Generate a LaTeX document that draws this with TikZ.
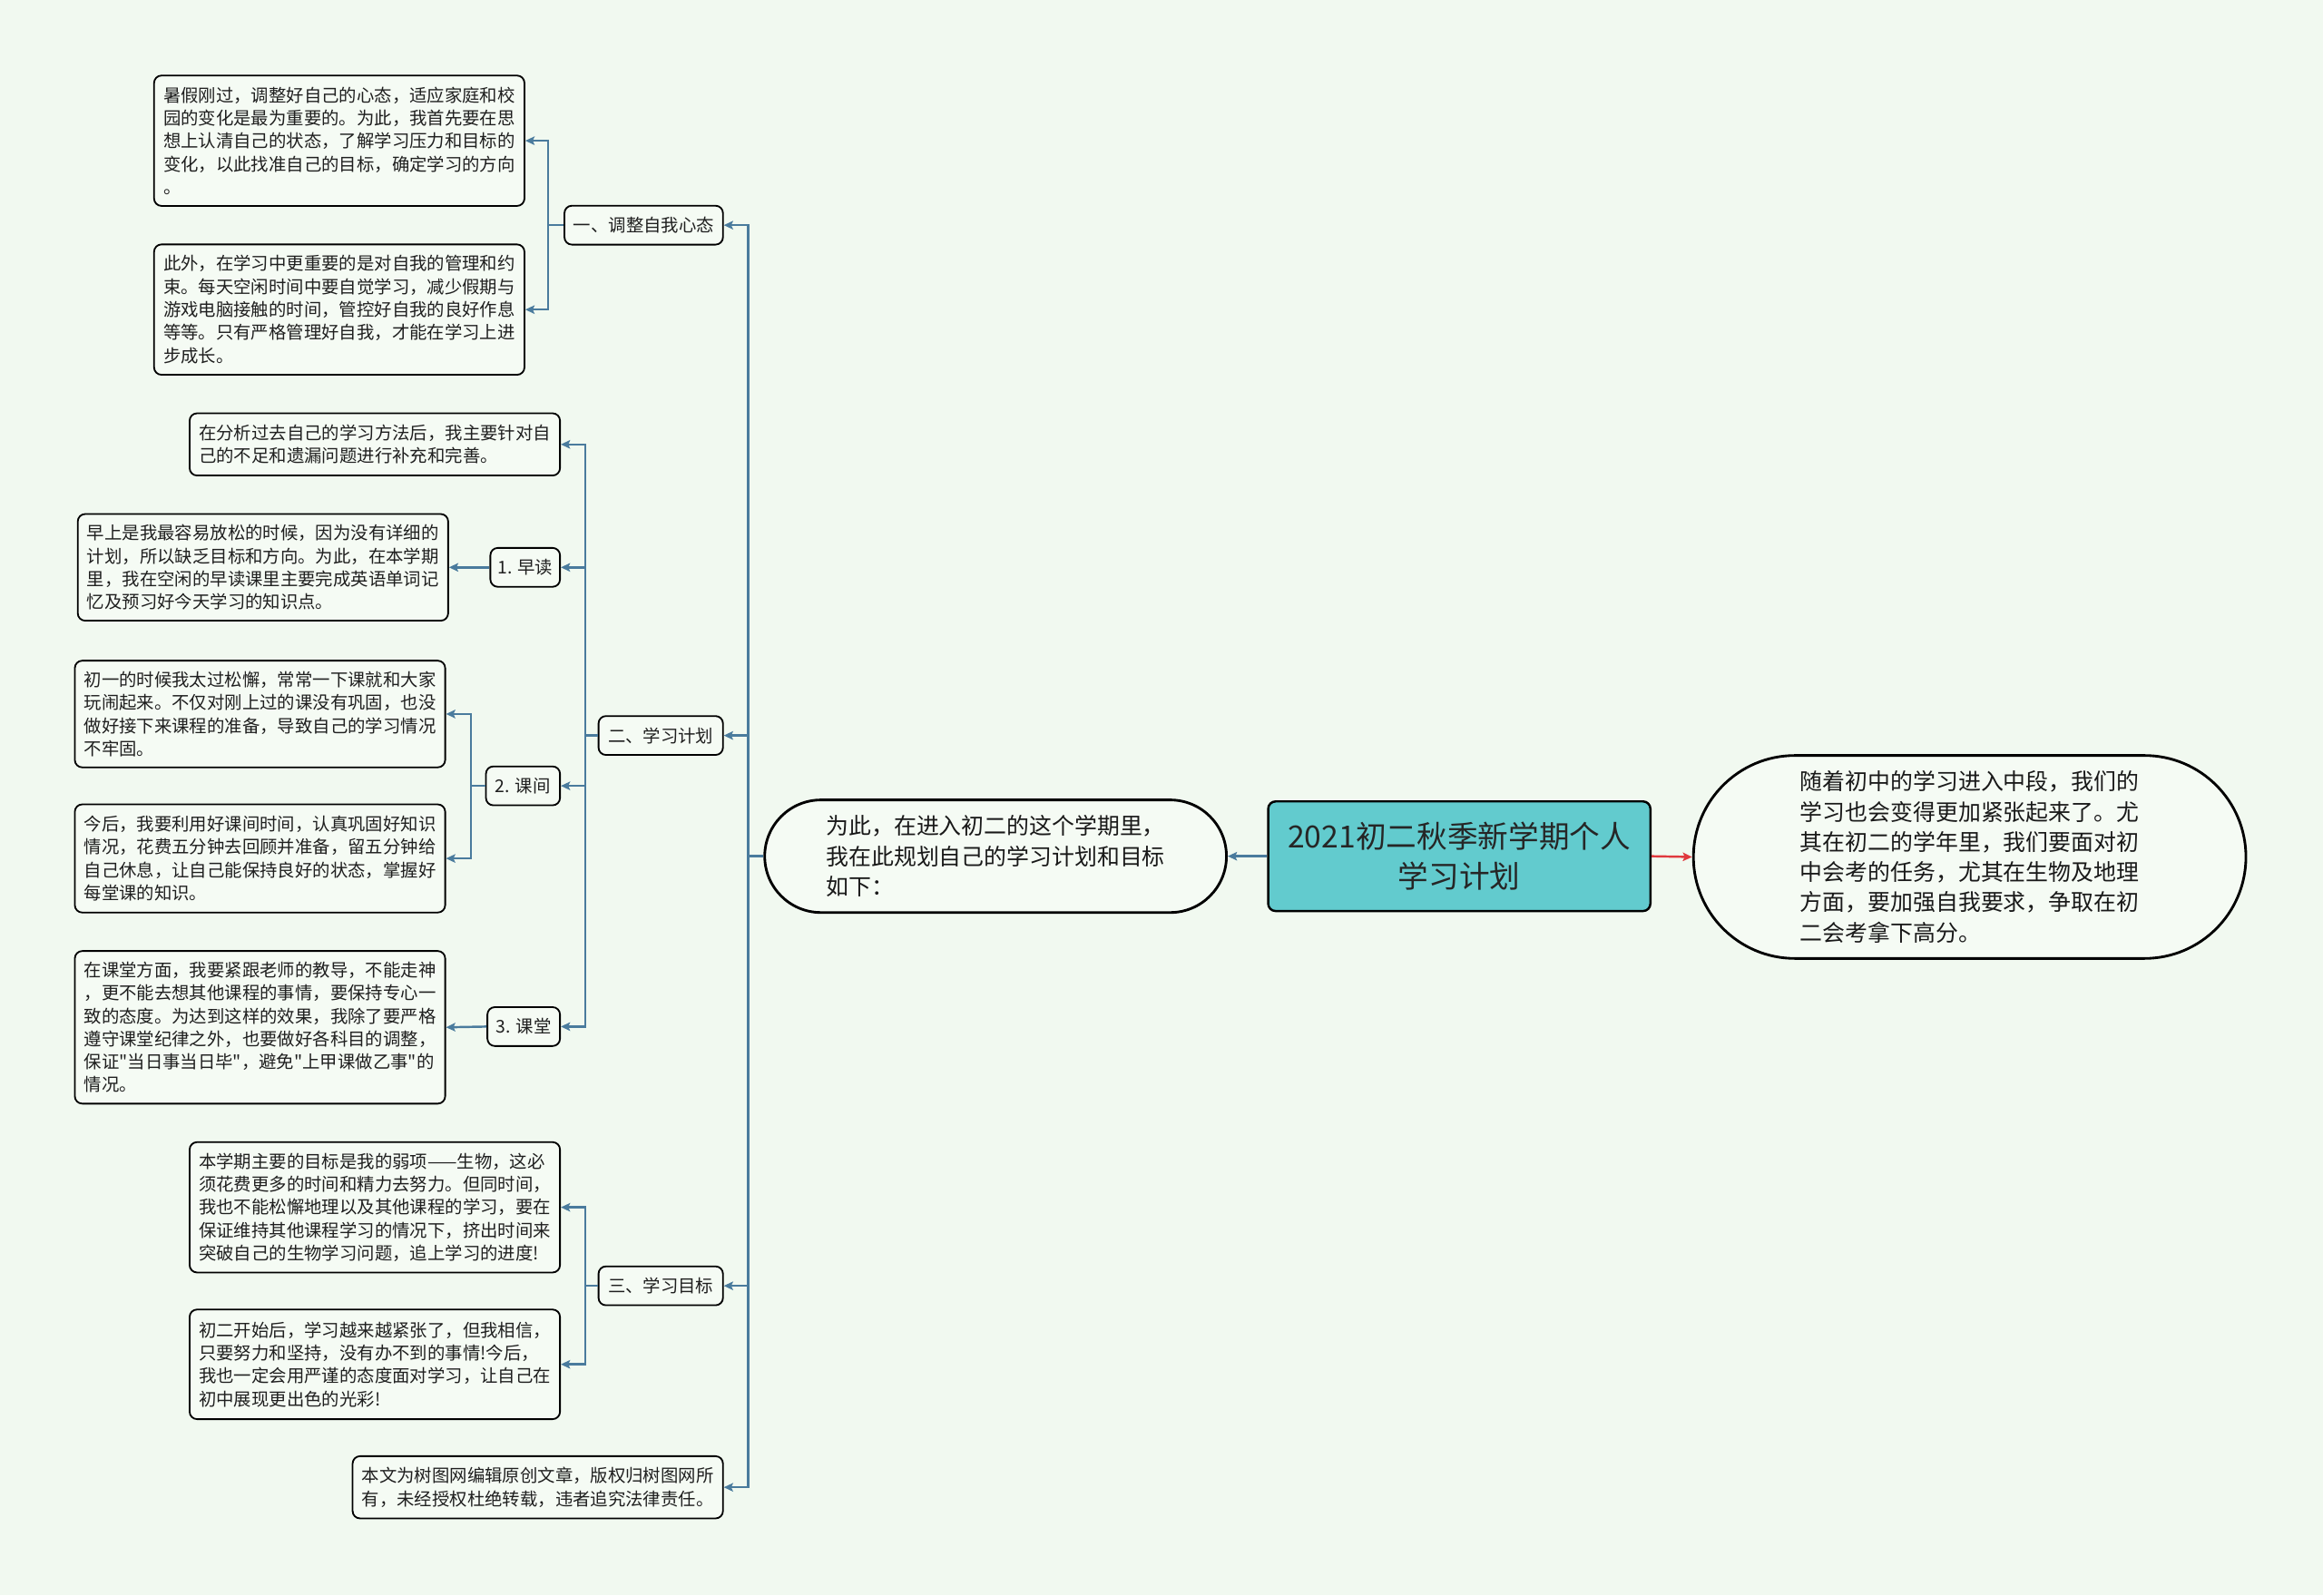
\documentclass[tikz,border=0pt]{standalone}
\usepackage{fontspec}
\setmainfont{Noto Sans CJK SC}[Ligatures=TeXOff]
\usetikzlibrary{arrows.meta,shapes.misc}
\definecolor{bgc}{HTML}{F1F9F0}
\definecolor{connc}{HTML}{4A7B9D}
\definecolor{rootfill}{HTML}{62CBCE}
\definecolor{redc}{HTML}{E0393E}
\definecolor{boxfill}{HTML}{F5FBF4}
\begin{document}
\begin{tikzpicture}[x=0.8pt,y=-0.8pt,
  txtbox/.style={draw=black, line width=0.9pt, rounded corners=4pt, fill=boxfill,
    text width=190pt, inner xsep=5pt, inner ysep=0pt, align=left,
    font=\fontsize{9.5}{12.4}\selectfont, text=black!88},
  lbl/.style={draw=black, line width=0.9pt, rounded corners=4pt, fill=boxfill,
    inner sep=0pt, minimum height=21pt, font=\fontsize{9.5}{12.4}\selectfont, text=black!88},
  conline/.style={draw=connc, line width=1.2pt, -{Stealth[length=5pt,width=4.6pt,inset=1pt]}},
  stad/.style={rounded rectangle, draw=black, line width=1.4pt, fill=boxfill, align=left,
    font=\fontsize{12.2}{16.3}\selectfont, text=black!90}
]
\fill[bgc] (0,0) rectangle (1568,1077);
\useasboundingbox (0,0) rectangle (1568,1077);

% root and first-level
\node[draw=black, line width=1.2pt, rounded corners=4pt, fill=rootfill, minimum width=206.4pt,
  minimum height=59.2pt, align=center, font=\fontsize{16.5}{21.6}\selectfont, text=black!85]
  (R) at (985,578) {2021初二秋季新学期个人\\学习计划};
\node[stad, minimum width=256pt, minimum height=60.8pt] (E) at (672,578)
  {为此，在进入初二的这个学期里，\\我在此规划自己的学习计划和目标\\如下：\hspace*{8pt}};
\node[stad, minimum width=305pt, minimum height=109.6pt] (F) at (1329.5,578.5)
  {随着初中的学习进入中段，我们的\\学习也会变得更加紧张起来了。尤\\其在初二的学年里，我们要面对初\\中会考的任务，尤其在生物及地理\\方面，要加强自我要求，争取在初\\二会考拿下高分。\hspace*{8pt}};

% second level labels
\node[lbl, minimum width=85.6pt] (A) at (434.5,152) {一、调整自我心态};
\node[lbl, minimum width=67.2pt] (B) at (446,496.5) {二、学习计划};
\node[lbl, minimum width=67.2pt] (C) at (446,868) {三、学习目标};
\node[txtbox, minimum height=33.6pt] (D) at (363,1004)
  {本文为树图网编辑原创文章，版权归树图网所\\有，未经授权杜绝转载，违者追究法律责任。};

% branch A
\node[txtbox, minimum height=70.4pt] (A1) at (229,95)
  {暑假刚过，调整好自己的心态，适应家庭和校\\园的变化是最为重要的。为此，我首先要在思\\想上认清自己的状态，了解学习压力和目标的\\变化，以此找准自己的目标，确定学习的方向\\。};
\node[txtbox, minimum height=70.4pt] (A2) at (229,209)
  {此外，在学习中更重要的是对自我的管理和约\\束。每天空闲时间中要自觉学习，减少假期与\\游戏电脑接触的时间，管控好自我的良好作息\\等等。只有严格管理好自我，才能在学习上进\\步成长。};

% branch B
\node[txtbox, minimum height=33.6pt] (B0) at (253,300)
  {在分析过去自己的学习方法后，我主要针对自\\己的不足和遗漏问题进行补充和完善。};
\node[lbl, minimum width=37.6pt] (B1) at (354.5,383) {1. 早读};
\node[lbl, minimum width=40pt] (B2) at (353,530.5) {2. 课间};
\node[lbl, minimum width=39.2pt] (B3) at (353.5,693) {3. 课堂};
\node[txtbox, minimum height=57.6pt] (B1a) at (177.5,383)
  {早上是我最容易放松的时候，因为没有详细的\\计划，所以缺乏目标和方向。为此，在本学期\\里，我在空闲的早读课里主要完成英语单词记\\忆及预习好今天学习的知识点。};
\node[txtbox, minimum height=57.6pt] (B2a) at (175.5,482)
  {初一的时候我太过松懈，常常一下课就和大家\\玩闹起来。不仅对刚上过的课没有巩固，也没\\做好接下来课程的准备，导致自己的学习情况\\不牢固。};
\node[txtbox, minimum height=58.4pt] (B2b) at (175.5,579.5)
  {今后，我要利用好课间时间，认真巩固好知识\\情况，花费五分钟去回顾并准备，留五分钟给\\自己休息，让自己能保持良好的状态，掌握好\\每堂课的知识。};
\node[txtbox, minimum height=82.4pt] (B3a) at (175.5,693.5)
  {在课堂方面，我要紧跟老师的教导，不能走神\\，更不能去想其他课程的事情，要保持专心一\\致的态度。为达到这样的效果，我除了要严格\\遵守课堂纪律之外，也要做好各科目的调整，\\保证"当日事当日毕"，避免"上甲课做乙事"的\\情况。};

% branch C
\node[txtbox, minimum height=70.4pt] (C1) at (253,815)
  {本学期主要的目标是我的弱项——生物，这必\\须花费更多的时间和精力去努力。但同时间，\\我也不能松懈地理以及其他课程的学习，要在\\保证维持其他课程学习的情况下，挤出时间来\\突破自己的生物学习问题，追上学习的进度!};
\node[txtbox, minimum height=59.2pt] (C2) at (253,921)
  {初二开始后，学习越来越紧张了，但我相信，\\只要努力和坚持，没有办不到的事情!今后，\\我也一定会用严谨的态度面对学习，让自己在\\初中展现更出色的光彩!};

% junction coordinates
\coordinate (tE) at (505,578);
\coordinate (tA) at (370,152);
\coordinate (tB) at (395,496.5);
\coordinate (tB2) at (318,530.5);
\coordinate (tC) at (395,868);

% connectors
\draw[conline] (R.west) -- (E.east);
\draw[draw=redc, line width=1.2pt, -{Stealth[length=5pt,width=4.6pt,inset=1pt]}] (R.east) -- (F.west);

\draw[conline] (E.west) -- (tE) |- (A.east);
\draw[conline] (E.west) -- (tE) |- (B.east);
\draw[conline] (E.west) -- (tE) |- (C.east);
\draw[conline] (E.west) -- (tE) |- (D.east);

\draw[conline] (A.west) -- (tA) |- (A1.east);
\draw[conline] (A.west) -- (tA) |- (A2.east);

\draw[conline] (B.west) -- (tB) |- (B0.east);
\draw[conline] (B.west) -- (tB) |- (B1.east);
\draw[conline] (B.west) -- (tB) |- (B2.east);
\draw[conline] (B.west) -- (tB) |- (B3.east);

\draw[conline] (B1.west) -- (B1a.east);
\draw[conline] (B2.west) -- (tB2) |- (B2a.east);
\draw[conline] (B2.west) -- (tB2) |- (B2b.east);
\draw[conline] (B3.west) -- (B3a.east);

\draw[conline] (C.west) -- (tC) |- (C1.east);
\draw[conline] (C.west) -- (tC) |- (C2.east);
\end{tikzpicture}
\end{document}
